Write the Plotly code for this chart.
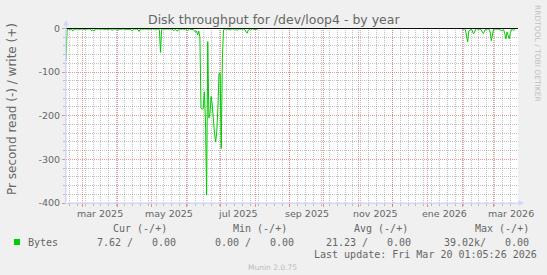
import pandas as pd
import plotly.graph_objects as go

# ---------------- data ----------------
seg1_start = "2025-02-14"
seg1_read = [
    -74, -2, -1, -2, -3, -2, -6, -2, -1, -2,
    -1, -2, -3, -2, -1, -1, -2, -2, -1, -2,
    -2, -1, -3, -5, -3, -6, -2, -1, -2, -1,
    -2, -1, -1, -2, -2, -1, -2, -3, -2, -1,
    -2, -5, -2, -1, -2, -1, -4, -2, -1, -2,
    -1, -1, -2, -2, -1, -2, -1, -2, -3, -6,
    -2, -1, -2, -1, -3, -7, -2, -1, -2, -1,
    -1, -2, -1, -2, -1, -2, -1, -1, -2, -1,
    -2, -1, -2, -3, -55, -2, -1, -2, -1, -2,
    -1, -2, -1, -2, -1, -3, -5, -2, -4, -6,
    -2, -3, -1, -2, -1, -2, -1, -2, -5, -2,
    -1, -2, -3, -2, -4, -8, -6, -15, -6, -20,
    -182, -185, -183, -145, -214, -382, -30, -205, -194, -156,
    -175, -214, -240, -260, -237, -182, -103, -103, -275, -68,
    -3, -2, -1, -2, -1, -2, -4, -2, -1, -2,
    -1, -2, -5, -2, -1, -2, -1, -2, -1, -3,
    -8, -11, -4, -2, -1, -2, -1, -2, -2, -3,
    -2,
]
seg2_start = "2026-02-01"
seg2_read = [
    -2, -2, -1, -3, -20, -31, -6, -3, -2, -4,
    -12, -10, -2, -1, -2, -2, -1, -3, -9, -12,
    -6, -2, -2, -1, -2, -8, -28, -10, -2, -2,
    -1, -2, -1, -2, -3, -5, -4, -3, -12, -24,
    -8, -15, -24, -10, -2, -3, -4, -3,
]

x_range = ["2025-02-14", "2026-03-22 18:00"]
month_label_dates = ["2025-03-16 12:00", "2025-05-16 12:00", "2025-07-16 12:00",
                     "2025-09-16 12:00", "2025-11-16 12:00", "2026-01-16 12:00",
                     "2026-03-16 12:00"]
month_labels = ["mar 2025", "may 2025", "jul 2025", "sep 2025", "nov 2025",
                "ene 2026", "mar 2026"]
y_tickvals = [0, -100, -200, -300, -400]
y_ticktext = ["0", "-100", "-200", "-300", "-400"]

title_text = "Disk throughput for /dev/loop4 - by year"
ytitle_text = "Pr second read (-) / write (+)"
series_name = "Bytes"
col_headers = ["Cur (-/+)", "Min (-/+)", "Avg (-/+)", "Max (-/+)"]
col_values = [("7.62 /", "0.00"), ("0.00 /", "0.00"), ("21.23 /", "0.00"), ("39.02k/", "0.00")]
last_update = "Last update: Fri Mar 20 01:05:26 2026"
munin_ver = "Munin 2.0.75"
watermark = "RRDTOOL / TOBI OETIKER"

# ---------------- build ----------------
d1 = list(pd.date_range(seg1_start, periods=len(seg1_read), freq="D"))
d2 = list(pd.date_range(seg2_start, periods=len(seg2_read), freq="D"))
xs = d1 + [d1[-1] + pd.Timedelta(days=1)] + d2
ys = seg1_read + [None] + seg2_read

W, H = 547, 275
L, R, T, B = 66, 518, 28, 203

def px(x):
    return (x - L) / (R - L)

def py(y):
    return (B - y) / (B - T)

GREEN = "#00CC00"
FONT = "#666666"
AXIS = "#CFD6F8"
MGRID = "rgba(222,79,79,0.6)"
GRID = "rgba(143,143,143,0.55)"
DOTS = "1px,1px"
SANS = "DejaVu Sans"
MONO = "DejaVu Sans Mono"

# fine y grid every 20 (skipping the major 100s drawn by the overlay axis)
y_fine = [v for v in range(-400, 1, 20) if v % 100 != 0]

fig = go.Figure()
fig.add_trace(go.Scatter(x=xs, y=ys, mode="lines", line=dict(color=GREEN, width=1),
                         connectgaps=False, showlegend=False, hoverinfo="skip"))
# empty trace that carries the overlay (major grid) axes
fig.add_trace(go.Scatter(x=[], y=[], xaxis="x2", yaxis="y2", mode="lines",
                         showlegend=False, hoverinfo="skip"))

fig.update_layout(
    width=W, height=H, autosize=False,
    margin=dict(l=L, r=W - R, t=T, b=H - B, pad=0),
    paper_bgcolor="#F0F0F0", plot_bgcolor="#FFFFFF",
    showlegend=False,
    font=dict(family=SANS, color=FONT, size=9.5),
    xaxis=dict(
        type="date", range=x_range,
        tickmode="linear", tick0="2025-02-17", dtick=7 * 86400000,
        showticklabels=False,
        showgrid=True, gridcolor=GRID, gridwidth=1, griddash=DOTS,
        zeroline=False, ticks="outside", ticklen=2, tickcolor=GRID,
        showline=True, linecolor=AXIS, linewidth=1,
    ),
    xaxis2=dict(
        type="date", range=x_range, overlaying="x", anchor="y2", side="bottom",
        tickmode="linear", tick0="2025-01-01", dtick="M1",
        showticklabels=False,
        showgrid=True, gridcolor=MGRID, gridwidth=1, griddash=DOTS,
        zeroline=False, ticks="outside", ticklen=3, tickcolor=MGRID,
        showline=False,
    ),
    yaxis=dict(
        range=[-400, 1], tickmode="array", tickvals=y_fine,
        showticklabels=False,
        showgrid=True, gridcolor=GRID, gridwidth=1, griddash=DOTS,
        zeroline=False, ticks="outside", ticklen=2, tickcolor=GRID,
        showline=True, linecolor=AXIS, linewidth=1,
    ),
    yaxis2=dict(
        range=[-400, 1], overlaying="y", anchor="x2", side="left",
        tickmode="array", tickvals=y_tickvals, ticktext=y_ticktext,
        showticklabels=True,
        tickfont=dict(family=SANS, size=9.5, color=FONT),
        showgrid=True, gridcolor=MGRID, gridwidth=1, griddash=DOTS,
        zeroline=False, ticks="outside", ticklen=3, tickcolor=MGRID,
        showline=False,
    ),
)

# zero rule
fig.add_shape(type="line", xref="paper", x0=0, x1=1, yref="y", y0=0, y1=0,
              line=dict(color="#000000", width=1), layer="above")

ann = []
# month labels on the x axis
for d, t in zip(month_label_dates, month_labels):
    ann.append(dict(text=t, x=d, y=py(213.7), xref="x", yref="paper",
                    xanchor="center", yanchor="middle", showarrow=False,
                    font=dict(family=SANS, size=9.5, color=FONT)))
ann.append(dict(text=title_text, x=px(273.5), y=py(19), xref="paper", yref="paper",
                xanchor="center", yanchor="middle", showarrow=False,
                font=dict(family=SANS, size=12.5, color=FONT)))
ann.append(dict(text=ytitle_text, x=px(12), y=py(109), xref="paper", yref="paper",
                xanchor="center", yanchor="middle", showarrow=False, textangle=-90,
                font=dict(family=SANS, size=12, color=FONT)))
ann.append(dict(text=watermark, x=px(538), y=py(53), xref="paper", yref="paper",
                xanchor="center", yanchor="middle", showarrow=False, textangle=90,
                font=dict(family=SANS, size=7.5, color="#C0C0C0")))
# axis arrows
ann.append(dict(text="", x=px(66), y=py(20), xref="paper", yref="paper",
                ax=0, ay=B - 20, axref="pixel", ayref="pixel", showarrow=True,
                arrowhead=2, arrowsize=1.1, arrowwidth=1, arrowcolor=AXIS))
ann.append(dict(text="", x=px(524), y=py(B), xref="paper", yref="paper",
                ax=-(524 - L), ay=0, axref="pixel", ayref="pixel", showarrow=True,
                arrowhead=2, arrowsize=1.1, arrowwidth=1, arrowcolor=AXIS))

# legend block
header_x = [111, 231, 352, 473]
for h, hx in zip(col_headers, header_x):
    ann.append(dict(text=h, x=px(hx), y=py(228), xref="paper", yref="paper",
                    xanchor="left", yanchor="middle", showarrow=False,
                    font=dict(family=MONO, size=10, color=FONT)))
ann.append(dict(text=series_name, x=px(26), y=py(242), xref="paper", yref="paper",
                xanchor="left", yanchor="middle", showarrow=False,
                font=dict(family=MONO, size=10, color=FONT)))
val_x = [(95, 150), (213, 268), (324, 385), (442, 503)]
for (a, b), (xa, xb) in zip(col_values, val_x):
    for t, xx in ((a, xa), (b, xb)):
        ann.append(dict(text=t, x=px(xx), y=py(242), xref="paper", yref="paper",
                        xanchor="left", yanchor="middle", showarrow=False,
                        font=dict(family=MONO, size=10, color=FONT)))
ann.append(dict(text=last_update, x=px(312), y=py(254.5), xref="paper", yref="paper",
                xanchor="left", yanchor="middle", showarrow=False,
                font=dict(family=MONO, size=10, color=FONT)))
ann.append(dict(text=munin_ver, x=px(272.5), y=py(267), xref="paper", yref="paper",
                xanchor="center", yanchor="middle", showarrow=False,
                font=dict(family=SANS, size=7.5, color="#BBBBBB")))
fig.update_layout(annotations=ann)

# legend swatch
fig.add_shape(type="rect", xref="paper", yref="paper",
              x0=px(14), x1=px(20), y0=py(245), y1=py(239),
              fillcolor=GREEN, line=dict(width=0))

fig.write_html("out.html", config={"displayModeBar": False})
